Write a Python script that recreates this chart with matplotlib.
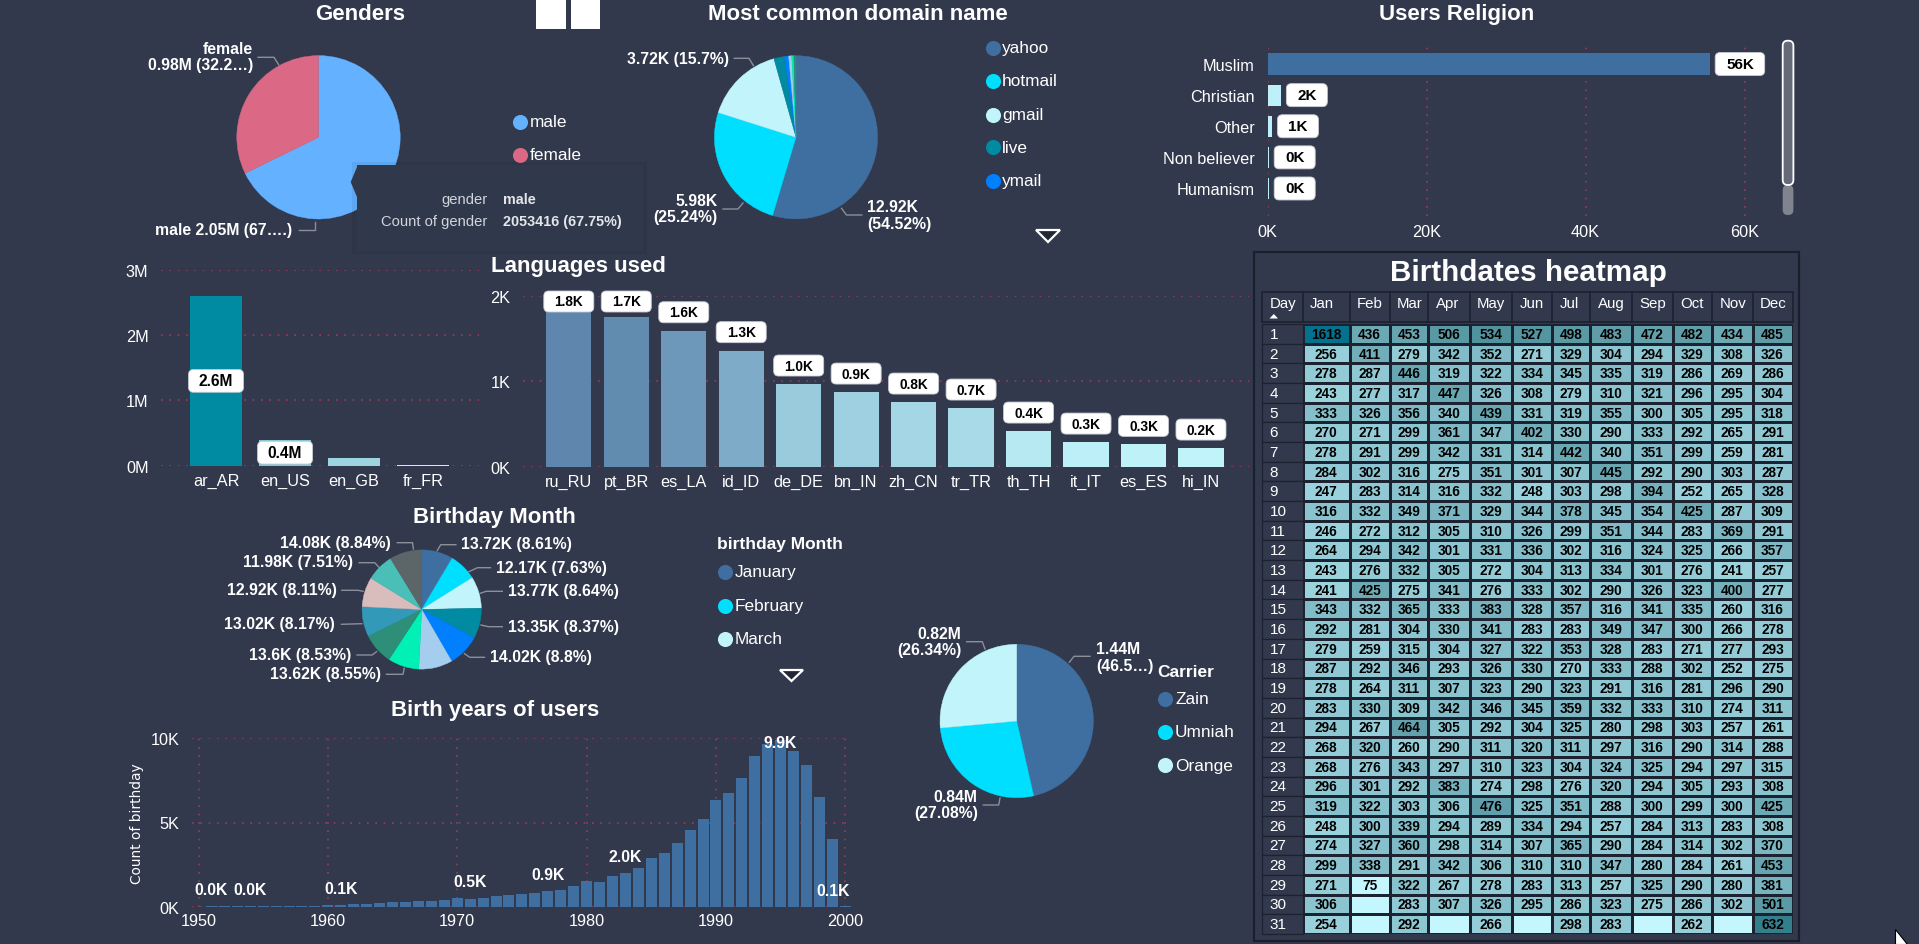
import numpy as np
import matplotlib
matplotlib.use("Agg")
import matplotlib.pyplot as plt
from matplotlib.colors import LinearSegmentedColormap, Normalize
from matplotlib.patches import FancyBboxPatch, Polygon, Rectangle

plt.rcParams['font.family'] = ['Liberation Sans', 'DejaVu Sans']

# Data
gender_names = ["male", "female"]
gender_values = [2053416, 978000]

domain_names = ["yahoo", "hotmail", "gmail", "live", "ymail", "other1", "other2", "other3"]
domain_values = [12.92, 5.98, 3.72, 0.50, 0.19, 0.14, 0.10, 0.10]

religion_names = ["Muslim", "Christian", "Other", "Non believer", "Humanism"]
religion_values = [55600, 1680, 560, 150, 150]
religion_labels = ["56K", "2K", "1K", "0K", "0K"]

locale_names = ["ar_AR", "en_US", "en_GB", "fr_FR"]
locale_values = [2.6, 0.4, 0.118, 0.01]
locale_labels = ["2.6M", "0.4M", None, None]

language_names = ["ru_RU", "pt_BR", "es_LA", "id_ID", "de_DE", "bn_IN", "zh_CN", "tr_TR",
                  "th_TH", "it_IT", "es_ES", "hi_IN"]
language_values = [1.85, 1.75, 1.59, 1.357, 0.967, 0.873, 0.756, 0.686, 0.417, 0.288, 0.261, 0.218]
language_labels = ["1.8K", "1.7K", "1.6K", "1.3K", "1.0K", "0.9K", "0.8K", "0.7K", "0.4K", "0.3K", "0.3K", "0.2K"]

month_legend = ["January", "February", "March"]
month_values = [13.72, 12.17, 13.77, 13.35, 14.02, 14.72, 13.62, 13.6, 13.02, 12.92, 11.98, 14.08]

carrier_names = ["Zain", "Umniah", "Orange"]
carrier_values = [1.44, 0.84, 0.82]

birth_years = list(range(1951, 2001))
birth_counts = [75, 75, 75, 70, 70, 80, 90, 90, 95, 150, 130, 200, 220, 270, 320, 300, 360, 380, 420,
                520, 490, 560, 640, 720, 780, 820, 960, 1020, 1260, 1560, 1520, 1850, 2020, 2340,
                2900, 3200, 3770, 4560, 5190, 6330, 6720, 7620, 8900, 9630, 9880, 9210, 8390,
                6480, 4050, 100]
birth_labelled = {1951: "0.0K", 1954: "0.0K", 1961: "0.1K", 1971: "0.5K", 1977: "0.9K",
                  1983: "2.0K", 1995: "9.9K", 1999: "0.1K"}

heat_months = ["Jan", "Feb", "Mar", "Apr", "May", "Jun", "Jul", "Aug", "Sep", "Oct", "Nov", "Dec"]
n = np.nan
heat_values = [
    [1618, 436, 453, 506, 534, 527, 498, 483, 472, 482, 434, 485],
    [256, 411, 279, 342, 352, 271, 329, 304, 294, 329, 308, 326],
    [278, 287, 446, 319, 322, 334, 345, 335, 319, 286, 269, 286],
    [243, 277, 317, 447, 326, 308, 279, 310, 321, 296, 295, 304],
    [333, 326, 356, 340, 439, 331, 319, 355, 300, 305, 295, 318],
    [270, 271, 299, 361, 347, 402, 330, 290, 333, 292, 265, 291],
    [278, 291, 299, 342, 331, 314, 442, 340, 351, 299, 259, 281],
    [284, 302, 316, 275, 351, 301, 307, 445, 292, 290, 303, 287],
    [247, 283, 314, 316, 332, 248, 303, 298, 394, 252, 265, 328],
    [316, 332, 349, 371, 329, 344, 378, 345, 354, 425, 287, 309],
    [246, 272, 312, 305, 310, 326, 299, 351, 344, 283, 369, 291],
    [264, 294, 342, 301, 331, 336, 302, 316, 324, 325, 266, 357],
    [243, 276, 332, 305, 272, 304, 313, 334, 301, 276, 241, 257],
    [241, 425, 275, 341, 276, 333, 302, 290, 326, 323, 400, 277],
    [343, 332, 365, 333, 383, 328, 357, 316, 341, 335, 260, 316],
    [292, 281, 304, 330, 341, 283, 283, 349, 347, 300, 266, 278],
    [279, 259, 315, 304, 327, 322, 353, 328, 283, 271, 277, 293],
    [287, 292, 346, 293, 326, 330, 270, 333, 288, 302, 252, 275],
    [278, 264, 311, 307, 323, 290, 323, 291, 316, 281, 296, 290],
    [283, 330, 309, 342, 346, 345, 359, 332, 333, 310, 274, 311],
    [294, 267, 464, 305, 292, 304, 325, 280, 298, 303, 257, 261],
    [268, 320, 260, 290, 311, 320, 311, 297, 316, 290, 314, 288],
    [268, 276, 343, 297, 310, 323, 304, 324, 325, 294, 297, 315],
    [296, 301, 292, 383, 274, 298, 276, 320, 294, 305, 293, 308],
    [319, 322, 303, 306, 476, 325, 351, 288, 300, 299, 300, 425],
    [248, 300, 339, 294, 289, 334, 294, 257, 284, 313, 283, 308],
    [274, 327, 360, 298, 314, 307, 365, 290, 284, 314, 302, 370],
    [299, 338, 291, 342, 306, 310, 310, 347, 280, 284, 261, 453],
    [271, 75, 322, 267, 278, 283, 313, 257, 325, 290, 280, 381],
    [306, n, 283, 307, 326, 295, 286, 323, 275, 286, 302, 501],
    [254, n, 292, n, 266, n, 298, 283, n, 262, n, 632],
]

# Styles
BG = '#32394d'
GRID = '#9a3d52'
GRID_DOTS = (0, (1, 4))
LEADER = '#8a8f99'
BLUE = '#3f6fa1'
CELL_EDGE = '#1c2230'
palette = [BLUE, '#00dfff', '#c2f5fb', '#008ba3', '#007fff', '#a5cdee', '#00f0b5', '#2d8f78',
           '#3399b8', '#d9bcbc', '#49bfb7', '#5c6668']
W, H = 1919, 945

fig = plt.figure(figsize=(W / 100, H / 100), dpi=100, facecolor=BG)


def px_axes(left, top, right, bottom, **kw):
    # Axes placed with pixel edges, y measured from the top of the picture
    return fig.add_axes([left / W, 1 - bottom / H, (right - left) / W, (bottom - top) / H],
                        facecolor='none', **kw)


def clean(ax):
    for s in ax.spines.values():
        s.set_visible(False)
    ax.tick_params(length=0, colors='white', labelsize=11.7)
    ax.set_axisbelow(True)


def pie_at(cx, cy, r, values, colors):
    ax = px_axes(cx - r, cy - r, cx + r, cy + r)
    wedges, _ = ax.pie(values, colors=colors, startangle=90, counterclock=False, radius=1)
    for w in wedges:
        w.set_edgecolor(w.get_facecolor())
        w.set_linewidth(0.3)
    ax.set_xlim(-1, 1)
    ax.set_ylim(-1, 1)
    return ax


# Pies
pie_at(318.5, 138.3, 81.7, gender_values, ['#64b2ff', '#db6884'])
pie_at(796, 138.3, 81.6, domain_values, palette[:5] + ['#a5cdee', '#00f0b5', '#2d8f78'])
pie_at(421.7, 610.5, 59.6, month_values, palette)
pie_at(1016.7, 722, 76.7, carrier_values, palette[:3])

# Religion bars
ax_rel = px_axes(1267.5, 41.7, 1750, 216.7)
clean(ax_rel)
rel_y = np.arange(len(religion_names))
ax_rel.barh(rel_y, religion_values, height=0.68,
            color=[BLUE, '#bdf0f8', '#bdf0f8', '#bdf0f8', '#bdf0f8'])
ax_rel.set_xlim(0, (1750 - 1267.5) / 7.953 * 1000)
ax_rel.set_ylim(4.875, -0.75)
ax_rel.set_yticks(rel_y, religion_names)
ax_rel.set_xticks([0, 20000, 40000, 60000], ["0K", "20K", "40K", "60K"])
ax_rel.tick_params(axis='y', pad=9)
ax_rel.tick_params(axis='x', pad=6)
ax_rel.grid(axis='x', color=GRID, linestyle=GRID_DOTS, linewidth=1.2)

# Locale bars
ax_loc = px_axes(161, 271, 479, 466.7)
clean(ax_loc)
loc_cmap = LinearSegmentedColormap.from_list('loc', ['#c2f5fb', '#9ad1dd', '#008ba3'])
loc_x = np.arange(len(locale_names))
ax_loc.bar(loc_x, locale_values, width=0.765,
           color=[loc_cmap(v / 2.6 * 0.5 / 0.05 if v < 0.13 else 0.5 + 0.5 * v / 2.6) for v in locale_values])
ax_loc.set_xlim(-0.797, 3.81)
ax_loc.set_ylim(0, 3)
ax_loc.set_yticks([0, 1, 2, 3], ["0M", "1M", "2M", "3M"])
ax_loc.set_xticks(loc_x, locale_names)
ax_loc.tick_params(axis='y', pad=9)
ax_loc.tick_params(axis='x', pad=5)
ax_loc.grid(axis='y', color=GRID, linestyle=GRID_DOTS, linewidth=1.2)

# Language bars
ax_lang = px_axes(523, 296.7, 1249, 467.7)
clean(ax_lang)
lang_cmap = LinearSegmentedColormap.from_list(
    'lang', [(0, '#c2f4fb'), (0.5, '#97c9dc'), (1, '#5f87ad')])
lang_norm = Normalize(0.2, 1.8)
lang_x = np.arange(len(language_names))
ax_lang.bar(lang_x, language_values, width=0.787, color=[lang_cmap(lang_norm(v)) for v in language_values])
ax_lang.set_xlim((523 - 568.8) / 57.47, (1249 - 568.8) / 57.47)
ax_lang.set_ylim(0, 2)
ax_lang.set_yticks([0, 1, 2], ["0K", "1K", "2K"])
ax_lang.set_xticks(lang_x, language_names)
ax_lang.tick_params(axis='y', pad=9)
ax_lang.tick_params(axis='x', pad=5)
ax_lang.grid(axis='y', color=GRID, linestyle=GRID_DOTS, linewidth=1.2)

# Birth years
ax_year = px_axes(192, 738.7, 849, 908.3)
clean(ax_year)
ax_year.bar(birth_years, birth_counts, width=0.85, color=BLUE, clip_on=False)
ax_year.set_xlim(1950 + (192 - 198.5) / 12.936, 2000 + (849 - 845.3) / 12.936)
ax_year.set_ylim(0, 10000)
ax_year.set_xticks(range(1950, 2001, 10))
ax_year.set_yticks([0, 5000, 10000], ["0K", "5K", "10K"])
ax_year.tick_params(axis='y', pad=9)
ax_year.tick_params(axis='x', pad=4)
ax_year.grid(True, color=GRID, linestyle=GRID_DOTS, linewidth=1.2)
ax_year.set_ylabel("Count of birthday", family='DejaVu Sans', fontsize=9.9, color='white', labelpad=5)

# Heatmap
col_edges = 1250 + np.array([147, 279, 391, 499, 615, 733, 845, 953, 1069, 1183, 1293, 1407, 1519]) / 2.8
heat = np.ma.masked_invalid(np.array(heat_values, dtype=float))
heat_cmap = LinearSegmentedColormap.from_list('heat', [
    (0.0, '#c4f6fd'),
    ((250 - 75) / 1543, '#98d0db'),
    ((350 - 75) / 1543, '#7fbac6'),
    ((500 - 75) / 1543, '#5a9aa5'),
    ((632 - 75) / 1543, '#33808c'),
    (1.0, '#04728f')])
heat_cmap.set_bad('#c4f6fd')
ax_heat = px_axes(col_edges[0], 325, col_edges[-1], 935)
ax_heat.set_axis_off()
ax_heat.pcolormesh(col_edges, np.arange(32), heat, cmap=heat_cmap, norm=Normalize(75, 1618),
                   edgecolors=CELL_EDGE, linewidth=0.8)
ax_heat.set_xlim(col_edges[0], col_edges[-1])
ax_heat.set_ylim(31, 0)
for r, row in enumerate(heat_values):
    for c, v in enumerate(row):
        if not np.isnan(v):
            ax_heat.text((col_edges[c] + col_edges[c + 1]) / 2, r + 0.5, str(v), ha='center', va='center',
                         fontsize=9.8, fontweight='bold', color='black')

# Overlay in picture pixels for titles, legends, labels and decorations
ov = fig.add_axes([0, 0, 1, 1], facecolor='none', zorder=10)
ov.set_xlim(0, W)
ov.set_ylim(H, 0)
ov.set_axis_off()


def title(x, y, s, ha='center', size=16):
    ov.text(x, y + 2, s, ha=ha, va='center', color='white', fontsize=size, fontweight='bold')


def legend(dot_x, text_x, ys, names, colors):
    for y, name, col in zip(ys, names, colors):
        ov.scatter([dot_x], [y], s=118, color=col, linewidths=0)
        ov.text(text_x, y, name, ha='left', va='center', color='white', fontsize=12.4)


def pie_label(s, x, ha, y, leader):
    xs, ys = zip(*leader)
    ov.plot(xs, ys, color=LEADER, lw=1)
    ov.text(x, y, s, ha=ha, va='center', color='white', fontsize=11.3, fontweight='bold', linespacing=1.15)


def value_box(cx, cy, w, h, s, size):
    ov.add_patch(FancyBboxPatch((cx - w / 2, cy - h / 2), w, h, boxstyle='round,pad=0,rounding_size=5',
                                fc='white', ec='#c8ccd2', lw=0.6, zorder=5))
    ov.text(cx, cy, s, ha='center', va='center', color='black', fontsize=size, fontweight='bold', zorder=6)


def to_px(ax, x, y):
    return ov.transData.inverted().transform(ax.transData.transform((x, y)))


def triangle_down(x0, x1, y0, y1):
    ov.add_patch(Polygon([(x0, y0), (x1, y0), ((x0 + x1) / 2, y1)], closed=True, fc='#222736', ec='white', lw=1.6))


title(360.4, 12.3, "Genders")
title(858, 12.3, "Most common domain name")
title(1456.8, 12.3, "Users Religion")
title(491, 264.3, "Languages used", ha='left')
title(494.7, 516, "Birthday Month")
title(494.8, 708.3, "Birth years of users")

# Focus buttons
ov.add_patch(Rectangle((536.3, 1), 29.7, 29, fc='white', ec='none'))
ov.add_patch(Rectangle((571, 1), 29.2, 29, fc='white', ec='none'))

# Pie labels
pie_label("female\n0.98M (32.2…)", 253, 'right', 57.5, [(278.7, 65.7), (274, 58.3), (258, 58.3)])
pie_label("male 2.05M (67….)", 292.5, 'right', 230, [(314.7, 223.3), (314.7, 231), (299, 231)])
pie_label("3.72K (15.7%)", 729, 'right', 59.3, [(753.5, 66.7), (749, 59.3), (734.3, 59.3)])
pie_label("5.98K\n(25.24%)", 717.5, 'right', 209.5, [(743, 204), (738, 210), (723, 210)])
pie_label("12.92K\n(54.52%)", 867.5, 'left', 216, [(841.5, 209.3), (846.5, 216), (861.8, 216)])
pie_label("13.72K (8.61%)", 461, 'left', 545, [(437.2, 551.7), (440.7, 545.7), (455.9, 545.7)])
pie_label("12.17K (7.63%)", 496.2, 'left', 568.3, [(468.9, 572.7), (477.5, 568.7), (490.5, 568.7)])
pie_label("13.77K (8.64%)", 507.9, 'left', 591.7, [(480.1, 594.3), (486.2, 592.3), (502.3, 592.3)])
pie_label("13.35K (8.37%)", 508.3, 'left', 627.3, [(481, 626), (488.4, 627.7), (502.3, 627.7)])
pie_label("14.02K (8.8%)", 490, 'left', 657.3, [(464.5, 654.7), (469.7, 658.3), (484.5, 658.3)])
pie_label("13.62K (8.55%)", 381.3, 'right', 674.3, [(404.2, 669.3), (403, 675.3), (386.5, 675.3)])
pie_label("13.6K (8.53%)", 351.3, 'right', 655.7, [(376.5, 652.7), (372.2, 656), (357, 656)])
pie_label("13.02K (8.17%)", 334.9, 'right', 625, [(361.8, 624.7), (341.4, 625.3)])
pie_label("12.92K (8.11%)", 336.6, 'right', 590.7, [(363, 592.3), (358.3, 591.3), (341.8, 591.3)])
pie_label("11.98K (7.51%)", 353, 'right', 562.7, [(379, 568.3), (374.8, 563.7), (359.1, 563.7)])
pie_label("14.08K (8.84%)", 391.2, 'right', 543.3, [(413.4, 550), (412.5, 543.7), (397.3, 543.7)])
pie_label("1.44M\n(46.5…)", 1096, 'left', 658, [(1069.3, 663.3), (1074, 657.3), (1090, 657.3)])
pie_label("0.82M\n(26.34%)", 961, 'right', 642.5, [(985, 650), (982.3, 642.7), (966.7, 642.7)])
pie_label("0.84M\n(27.08%)", 977.7, 'right', 805.5, [(1000, 799), (998.7, 806), (983.3, 806)])

# Legends
legend(519.8, 529.4, [122.7, 155.7], gender_names, ['#64b2ff', '#db6884'])
legend(992.7, 1002, [48.7, 82, 115.7, 148.3, 181.7], domain_names[:5], palette[:5])
ov.text(717.3, 545, "birthday Month", ha='left', va='center', color='white', fontsize=12.5, fontweight='bold')
legend(725, 734.7, [573, 606.7, 640], month_legend, palette[:3])
ov.text(1157.3, 672.3, "Carrier", ha='left', va='center', color='white', fontsize=12.5, fontweight='bold')
legend(1165.3, 1175, [700, 732.7, 766], carrier_names, palette[:3])
triangle_down(1036, 1060, 231, 243)
triangle_down(780, 803, 671, 682)

# Value boxes
rel_w = [49.5, 41, 41, 41, 41]
for i, s in enumerate(religion_labels):
    end, cy = to_px(ax_rel, religion_values[i], i)
    value_box(end + 5.5 + rel_w[i] / 2, cy, rel_w[i], 23, s, 11)
for i, s in enumerate(locale_labels):
    if s:
        cx, cy = to_px(ax_loc, i, locale_values[i] / 2)
        value_box(cx, min(cy, 454.7), 55, 22.7, s, 11.2)
for i, s in enumerate(language_labels):
    cx, top = to_px(ax_lang, i, language_values[i])
    value_box(cx, max(top - 18.5, 302.5), 50, 21, s, 9.9)

# Birth year labels
for yr, s in birth_labelled.items():
    cx, top = to_px(ax_year, yr, birth_counts[yr - 1951])
    cy = max(top - 17, 743) if yr != 1999 else 891
    if yr == 1999:
        cx = 833
    ov.text(cx, cy, s, ha='center', va='center', color='white', fontsize=11.3, fontweight='bold', zorder=4)

# Scrollbar
ov.add_patch(FancyBboxPatch((1782.7, 186), 10.7, 30, boxstyle='round,pad=0,rounding_size=5', fc='#80848f', ec='none'))
ov.add_patch(FancyBboxPatch((1782.7, 41.7), 10.7, 144.3, boxstyle='round,pad=0,rounding_size=5',
                            fc='#666a78', ec='white', lw=1.3))

# Tooltip over the gender pie
ov.add_patch(Rectangle((352, 163), 295, 92, fc='black', alpha=0.06, ec='none', zorder=7))
ov.add_patch(Polygon([(357, 168), (350.7, 183), (357, 198)], closed=True, fc='#30384c', ec='none', zorder=8))
ov.add_patch(Rectangle((357, 165.7), 286, 86, fc='#30384c', ec='none', zorder=8))
ov.text(487.3, 200, "gender", ha='right', va='center', color='#d2d5da', fontsize=10.6, zorder=9)
ov.text(502.6, 200, "male", ha='left', va='center', color='#e4e6ea', fontsize=10.4, fontweight='bold', zorder=9)
ov.text(487.3, 221.7, "Count of gender", ha='right', va='center', color='#d2d5da', fontsize=10.6, zorder=9)
ov.text(502.6, 221.7, "2053416 (67.75%)", ha='left', va='center', color='#e4e6ea', fontsize=10.4,
        fontweight='bold', zorder=9)

# Heatmap frame and headers
ov.add_patch(Rectangle((1254.3, 252.7), 545, 689, fc='none', ec='#1a1f2c', lw=1.6, zorder=1))
title(1528, 270.7, "Birthdates heatmap", size=21.3)
table_left = 1250 + 33 / 2.8
ov.add_patch(Rectangle((table_left, 293.3), col_edges[-1] - table_left, 30, fc=BG, ec=CELL_EDGE, lw=1.2))
for e in col_edges[:-1]:
    ov.plot([e, e], [293.3, 323.3], color=CELL_EDGE, lw=1.2)
ov.text(table_left + 7.8, 304, "Day", ha='left', va='center', color='white', fontsize=10.8)
ov.add_patch(Polygon([(1269.5, 319.5), (1278, 319.5), (1273.8, 315)], closed=True, fc='white', ec='none'))
for c, name in enumerate(heat_months):
    ov.text(col_edges[c] + 7.5, 304, name, ha='left', va='center', color='white', fontsize=10.8)
for r in range(31):
    y0 = 325 + r * 610 / 31
    ov.add_patch(Rectangle((table_left, y0), col_edges[0] - table_left, 610 / 31, fc=BG, ec=CELL_EDGE, lw=0.9))
    ov.text(table_left + 7.8, y0 + 305 / 31, str(r + 1), ha='left', va='center', color='white', fontsize=11)

# Mouse pointer
ov.add_patch(Polygon([(1895, 929.5), (1895, 945), (1901, 945), (1907, 945)], closed=True, fc='white', ec='black', lw=0.8))

fig.savefig('out.png', dpi=100, facecolor=BG)
